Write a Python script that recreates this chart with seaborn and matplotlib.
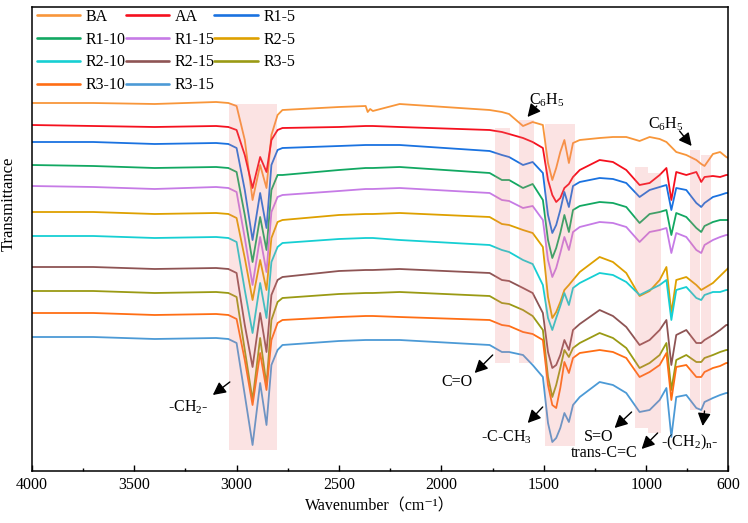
import matplotlib
matplotlib.use("Agg")
import matplotlib.pyplot as plt
import seaborn as sns
import pandas as pd
from matplotlib.patches import Rectangle
from matplotlib.lines import Line2D

# ---------------- data ----------------
wavenumber = [4000, 3700, 3400, 3100, 3040, 3000, 2960, 2922, 2885, 2854, 2830, 2800,
              2776, 2500, 2370, 2360, 2348, 2335, 2204, 1765, 1705, 1670, 1602, 1555,
              1505, 1480, 1459, 1440, 1420, 1400, 1378, 1358, 1325, 1228, 1163, 1098,
              1033, 984, 935, 902, 878, 854, 805, 756, 732, 716, 675, 640, 610, 600]

BA = [397, 397, 396, 398, 397, 394, 360, 300, 335, 312, 365, 385, 390, 393, 394, 388,
      391, 389, 396, 390, 388, 386, 374, 378, 375, 337, 320, 332, 348, 360, 337, 357,
      360, 362, 363, 363, 359, 363, 361, 358, 353, 348, 345, 340, 336, 334, 346, 348,
      343, 342]
AA = [375, 374, 373, 374, 373, 370, 345, 312, 343, 328, 360, 370, 372, 373, 374, 374,
      374, 374, 373, 370, 368, 366, 362, 358, 352, 320, 305, 298, 302, 312, 316, 323,
      330, 340, 338, 330, 315, 317, 325, 332, 300, 328, 325, 328, 318, 323, 324, 323,
      325, 325]
R1_5 = [358, 358, 356, 357, 356, 352, 310, 260, 307, 272, 335, 350, 352, 354, 355, 355,
        355, 355, 355, 349, 345, 343, 335, 338, 327, 285, 267, 275, 290, 308, 293, 314,
        318, 322, 321, 317, 303, 310, 313, 315, 290, 312, 310, 297, 293, 297, 303, 305,
        307, 307]
R1_10 = [335, 334, 332, 333, 332, 328, 285, 238, 283, 250, 310, 325, 325, 330, 332, 332,
         332, 332, 333, 327, 320, 320, 312, 316, 300, 260, 242, 252, 267, 285, 268, 290,
         294, 298, 297, 293, 277, 286, 288, 290, 265, 287, 283, 272, 268, 274, 278, 280,
         280, 280]
R1_15 = [314, 313, 311, 313, 312, 308, 262, 215, 263, 228, 288, 303, 305, 309, 311, 311,
         311, 311, 312, 307, 300, 299, 292, 294, 280, 240, 223, 232, 247, 263, 250, 268,
         273, 278, 277, 273, 258, 268, 270, 272, 247, 267, 263, 250, 247, 255, 260, 263,
         265, 265]
R2_5 = [288, 288, 286, 287, 286, 282, 242, 200, 240, 210, 262, 278, 280, 285, 286, 286,
        286, 286, 287, 283, 276, 275, 270, 267, 253, 203, 182, 188, 198, 210, 215, 220,
        228, 243, 238, 227, 204, 209, 220, 233, 187, 220, 223, 215, 210, 212, 217, 224,
        230, 232]
R2_10 = [264, 264, 262, 263, 262, 258, 210, 167, 217, 182, 238, 253, 257, 261, 262, 262,
         262, 262, 260, 255, 250, 248, 240, 236, 215, 182, 170, 182, 194, 207, 195, 212,
         217, 227, 225, 218, 205, 210, 215, 220, 180, 210, 213, 202, 200, 205, 208, 208,
         210, 210]
R2_15 = [233, 233, 231, 232, 231, 227, 175, 133, 187, 148, 205, 220, 223, 229, 230, 230,
         230, 230, 231, 227, 220, 219, 212, 207, 187, 148, 132, 135, 145, 160, 150, 170,
         176, 190, 184, 173, 155, 160, 170, 180, 135, 165, 170, 157, 157, 160, 165, 170,
         175, 175]
R3_5 = [209, 209, 207, 208, 207, 203, 150, 100, 162, 115, 180, 198, 202, 206, 207, 207,
        207, 207, 208, 204, 197, 196, 190, 184, 170, 123, 103, 115, 132, 150, 143, 152,
        157, 167, 162, 152, 132, 137, 145, 157, 110, 140, 145, 138, 138, 142, 145, 148,
        150, 150]
R3_10 = [187, 187, 185, 186, 185, 181, 140, 95, 147, 110, 160, 177, 180, 183, 184, 184,
         184, 184, 183, 180, 175, 174, 168, 166, 160, 115, 95, 92, 112, 138, 127, 142,
         147, 150, 148, 142, 123, 128, 135, 147, 100, 133, 135, 123, 123, 128, 132, 134,
         137, 137]
R3_15 = [163, 163, 161, 162, 161, 157, 105, 55, 117, 75, 135, 150, 155, 159, 160, 160,
         160, 160, 160, 155, 148, 148, 145, 135, 123, 77, 58, 62, 72, 87, 78, 95,
         103, 118, 115, 107, 88, 90, 100, 112, 63, 103, 105, 92, 90, 98, 102, 105,
         107, 107]

samples = ["BA", "AA", "R1-5", "R1-10", "R1-15", "R2-5", "R2-10", "R2-15",
           "R3-5", "R3-10", "R3-15"]
series = [BA, AA, R1_5, R1_10, R1_15, R2_5, R2_10, R2_15, R3_5, R3_10, R3_15]
colors = ["#F8963A", "#F5101E", "#1A72E0", "#12A862", "#C67BE6", "#DEA000",
          "#16CFD3", "#8E5454", "#9A9A14", "#FF6E14", "#4C9AD6"]

xticks = [4000, 3500, 3000, 2500, 2000, 1500, 1000, 600]
xminor = [3750, 3250, 2750, 2250, 1750, 1250, 800]

# ---------------- figure ----------------
sns.set_theme(style="white")
plt.rcParams["font.family"] = ["Liberation Serif", "DejaVu Serif", "Noto Sans CJK SC"]
plt.rcParams["mathtext.fontset"] = "custom"
plt.rcParams["mathtext.rm"] = "Liberation Serif"
plt.rcParams["mathtext.it"] = "Liberation Serif:italic"
for k in ["text.color", "axes.labelcolor", "xtick.color", "ytick.color", "axes.edgecolor"]:
    plt.rcParams[k] = "black"

df = pd.concat([pd.DataFrame({"wn": wavenumber, "T": s, "sample": n})
                for n, s in zip(samples, series)], ignore_index=True)
palette = dict(zip(samples, colors))

fig = plt.figure(figsize=(7.48, 5.23), dpi=100)
ax = fig.add_axes([0.04238, 0.09943, 0.93128, 0.88776])

sns.lineplot(data=df, x="wn", y="T", hue="sample", hue_order=samples, palette=palette,
             sort=False, estimator=None, legend=False, lw=1.3, ax=ax, zorder=2)

ax.set_xlim(4000, 600)
ax.set_ylim(29, 493.3)

# highlighted bands
bands = [(3036, 2802, 50, 396), (1737, 1667, 137, 372), (1623, 1550, 137, 380),
         (1496, 1350, 54, 376), (1054, 992, 72, 333), (992, 927, 67, 327),
         (785, 740, 90, 350), (732, 686, 87, 345)]
for w1, w2, t1, t2 in bands:
    ax.add_patch(Rectangle((w2, t1), w1 - w2, t2 - t1, facecolor="#f08080",
                           alpha=0.22, lw=0, zorder=3))

# annotations
arrow_kw = dict(arrowstyle="-|>,head_length=0.55,head_width=0.28", color="black",
                lw=1.0, mutation_scale=14, shrinkA=0, shrinkB=0)
notes = [("-CH$_2$-", (3238, 93), (3033, 118), (3116, 105)),
         ("C=O", (1925, 118), (1750, 145), (1838, 127)),
         ("-C-CH$_3$", (1681, 63), (1506, 93), (1579, 77)),
         ("S=O", (1233, 63), (1072, 88), (1155, 72)),
         ("trans-C=C", (1208, 47), (945, 67), (1023, 51)),
         ("-(CH$_2$)$_\\mathrm{n}$-", (789, 58), (716, 89), (725, 74)),
         ("C$_6$H$_5$", (1486, 400), (1535, 394), (1580, 383)),
         ("C$_6$H$_5$", (906, 376), (838, 369), (779, 354))]
for txt, tpos, tail, head in notes:
    ax.text(tpos[0], tpos[1], txt, ha="center", va="center", fontsize=11.5, zorder=5)
    ax.annotate("", xy=head, xytext=tail, arrowprops=arrow_kw, zorder=5)

# axes styling
ax.set_xticks(xticks)
ax.set_xticklabels([str(t) for t in xticks])
ax.set_xticks(xminor, minor=True)
ax.set_yticks([])
ax.tick_params(axis="x", which="major", direction="in", bottom=True, top=False,
               length=4.5, width=1.0, labelsize=11.5, pad=4)
ax.tick_params(axis="x", which="minor", direction="in", bottom=True, top=False,
               length=2.3, width=1.0)
for sp in ax.spines.values():
    sp.set_color("black")
    sp.set_linewidth(1.1)

ax.set_xlabel("Wavenumber\uff08cm\u207b\u00b9\uff09", fontsize=11.5, labelpad=4)
ax.set_ylabel("Transmittance", fontsize=12)
ax.yaxis.set_label_coords(-0.0215, 0.575)

# legend (row-major order like the reference)
order = ["BA", "R1-10", "R2-10", "R3-10", "AA", "R1-15", "R2-15", "R3-15",
         "R1-5", "R2-5", "R3-5"]
handles = [Line2D([], [], color=palette[s], lw=1.9) for s in order]
ax.legend(handles, order, loc="upper left", bbox_to_anchor=(0.0076, 0.995), ncol=3,
          frameon=False, fontsize=11.5, handlelength=2.7, handletextpad=0.35,
          columnspacing=0.0, labelspacing=0.42, borderpad=0, borderaxespad=0)

fig.savefig("out.png", dpi=100)
